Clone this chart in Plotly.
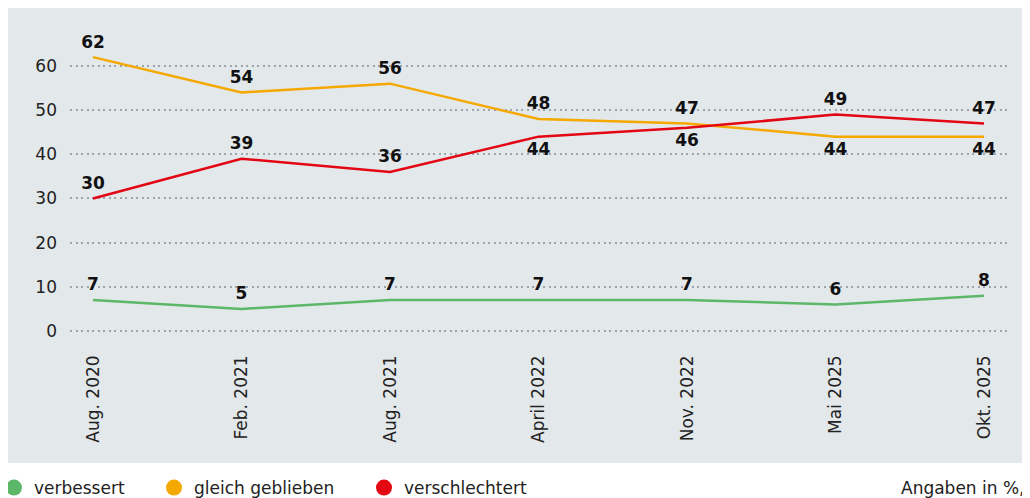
import plotly.graph_objects as go

categories = ["Aug. 2020", "Feb. 2021", "Aug. 2021", "April 2022", "Nov. 2022", "Mai 2025", "Okt. 2025"]
verbessert = [7, 5, 7, 7, 7, 6, 8]
gleich = [62, 54, 56, 48, 47, 44, 44]
verschlechtert = [30, 39, 36, 44, 46, 49, 47]
y_ticks = [0, 10, 20, 30, 40, 50, 60]

GREEN = "#5db768"
ORANGE = "#f5a800"
RED = "#e30613"
BG = "#e3e8eb"
FONT = "DejaVu Sans"

# page is rendered with an 8px body margin
W, H = 1022, 490
L, R, T, B = 62, 23, 12, 158
pw, ph = W - L - R, H - T - B
Y0 = 323          # pixel of value 0
PX_PER_UNIT = 4.417

def px_x(p):
    return (p - L) / pw

def px_y(p):
    return (H - B - p) / ph

gleich_pos = ["top center"] * 5 + ["bottom center"] * 2
red_pos = ["top center"] * 3 + ["bottom center"] * 2 + ["top center"] * 2

fig = go.Figure()
label_font = dict(family=FONT, size=17, color="#111111", weight="bold")
hidden_marker = dict(size=7, opacity=0)

fig.add_trace(go.Scatter(x=categories, y=verbessert, mode="lines+markers+text", text=[str(v) for v in verbessert],
                         textposition="top center", textfont=label_font, marker=dict(color=GREEN, **hidden_marker),
                         line=dict(color=GREEN, width=2.5), showlegend=False, hoverinfo="skip"))
fig.add_trace(go.Scatter(x=categories, y=gleich, mode="lines+markers+text", text=[str(v) for v in gleich],
                         textposition=gleich_pos, textfont=label_font, marker=dict(color=ORANGE, **hidden_marker),
                         line=dict(color=ORANGE, width=2.5), showlegend=False, hoverinfo="skip"))
fig.add_trace(go.Scatter(x=categories, y=verschlechtert, mode="lines+markers+text", text=[str(v) for v in verschlechtert],
                         textposition=red_pos, textfont=label_font, marker=dict(color=RED, **hidden_marker),
                         line=dict(color=RED, width=2.5), showlegend=False, hoverinfo="skip"))

legend_names = ["verbessert", "gleich geblieben", "verschlechtert"]
legend_colors = [GREEN, ORANGE, RED]
legend_ids = ["legend", "legend2", "legend3"]
for name, col, lid in zip(legend_names, legend_colors, legend_ids):
    fig.add_trace(go.Scatter(x=[None], y=[None], mode="markers", name=name,
                             marker=dict(color=col, size=16, symbol="circle"),
                             showlegend=True, legend=lid))

leg_common = dict(orientation="h", yanchor="middle", xanchor="left", bgcolor="rgba(0,0,0,0)",
                  font=dict(family=FONT, size=17, color="#222222"))
leg_y = px_y(480)
fig.update_layout(
    legend=dict(x=px_x(-14), y=leg_y, **leg_common),
    legend2=dict(x=px_x(146), y=leg_y, **leg_common),
    legend3=dict(x=px_x(356), y=leg_y, **leg_common),
)

fig.add_shape(type="rect", xref="paper", yref="paper",
              x0=px_x(0), x1=px_x(1019), y0=px_y(455), y1=px_y(0),
              fillcolor=BG, line=dict(width=0), layer="below")

fig.add_annotation(text="Angaben in %,", xref="paper", yref="paper",
                   x=px_x(1019), y=leg_y, xanchor="right", yanchor="middle", showarrow=False,
                   font=dict(family=FONT, size=17, color="#222222"))

fig.update_xaxes(type="category", range=[-23 / 148.5, 6 + 23 / 148.5], tickangle=-90,
                 showgrid=False, zeroline=False, showline=False, ticks="",
                 tickfont=dict(family=FONT, size=17, color="#222222"), ticklabelstandoff=11)
fig.update_yaxes(range=[(Y0 - (H - B)) / PX_PER_UNIT, (Y0 - T) / PX_PER_UNIT], tickvals=y_ticks,
                 showgrid=True, gridcolor="#9ba5ab", gridwidth=2, griddash="2px,3.5px",
                 zeroline=False, showline=False, ticks="",
                 tickfont=dict(family=FONT, size=17, color="#222222"), ticklabelstandoff=12)

fig.update_layout(width=W, height=H, margin=dict(l=L, r=R, t=T, b=B, autoexpand=False),
                  paper_bgcolor="white", plot_bgcolor="rgba(0,0,0,0)", hovermode=False)

fig.write_html("out.html")
